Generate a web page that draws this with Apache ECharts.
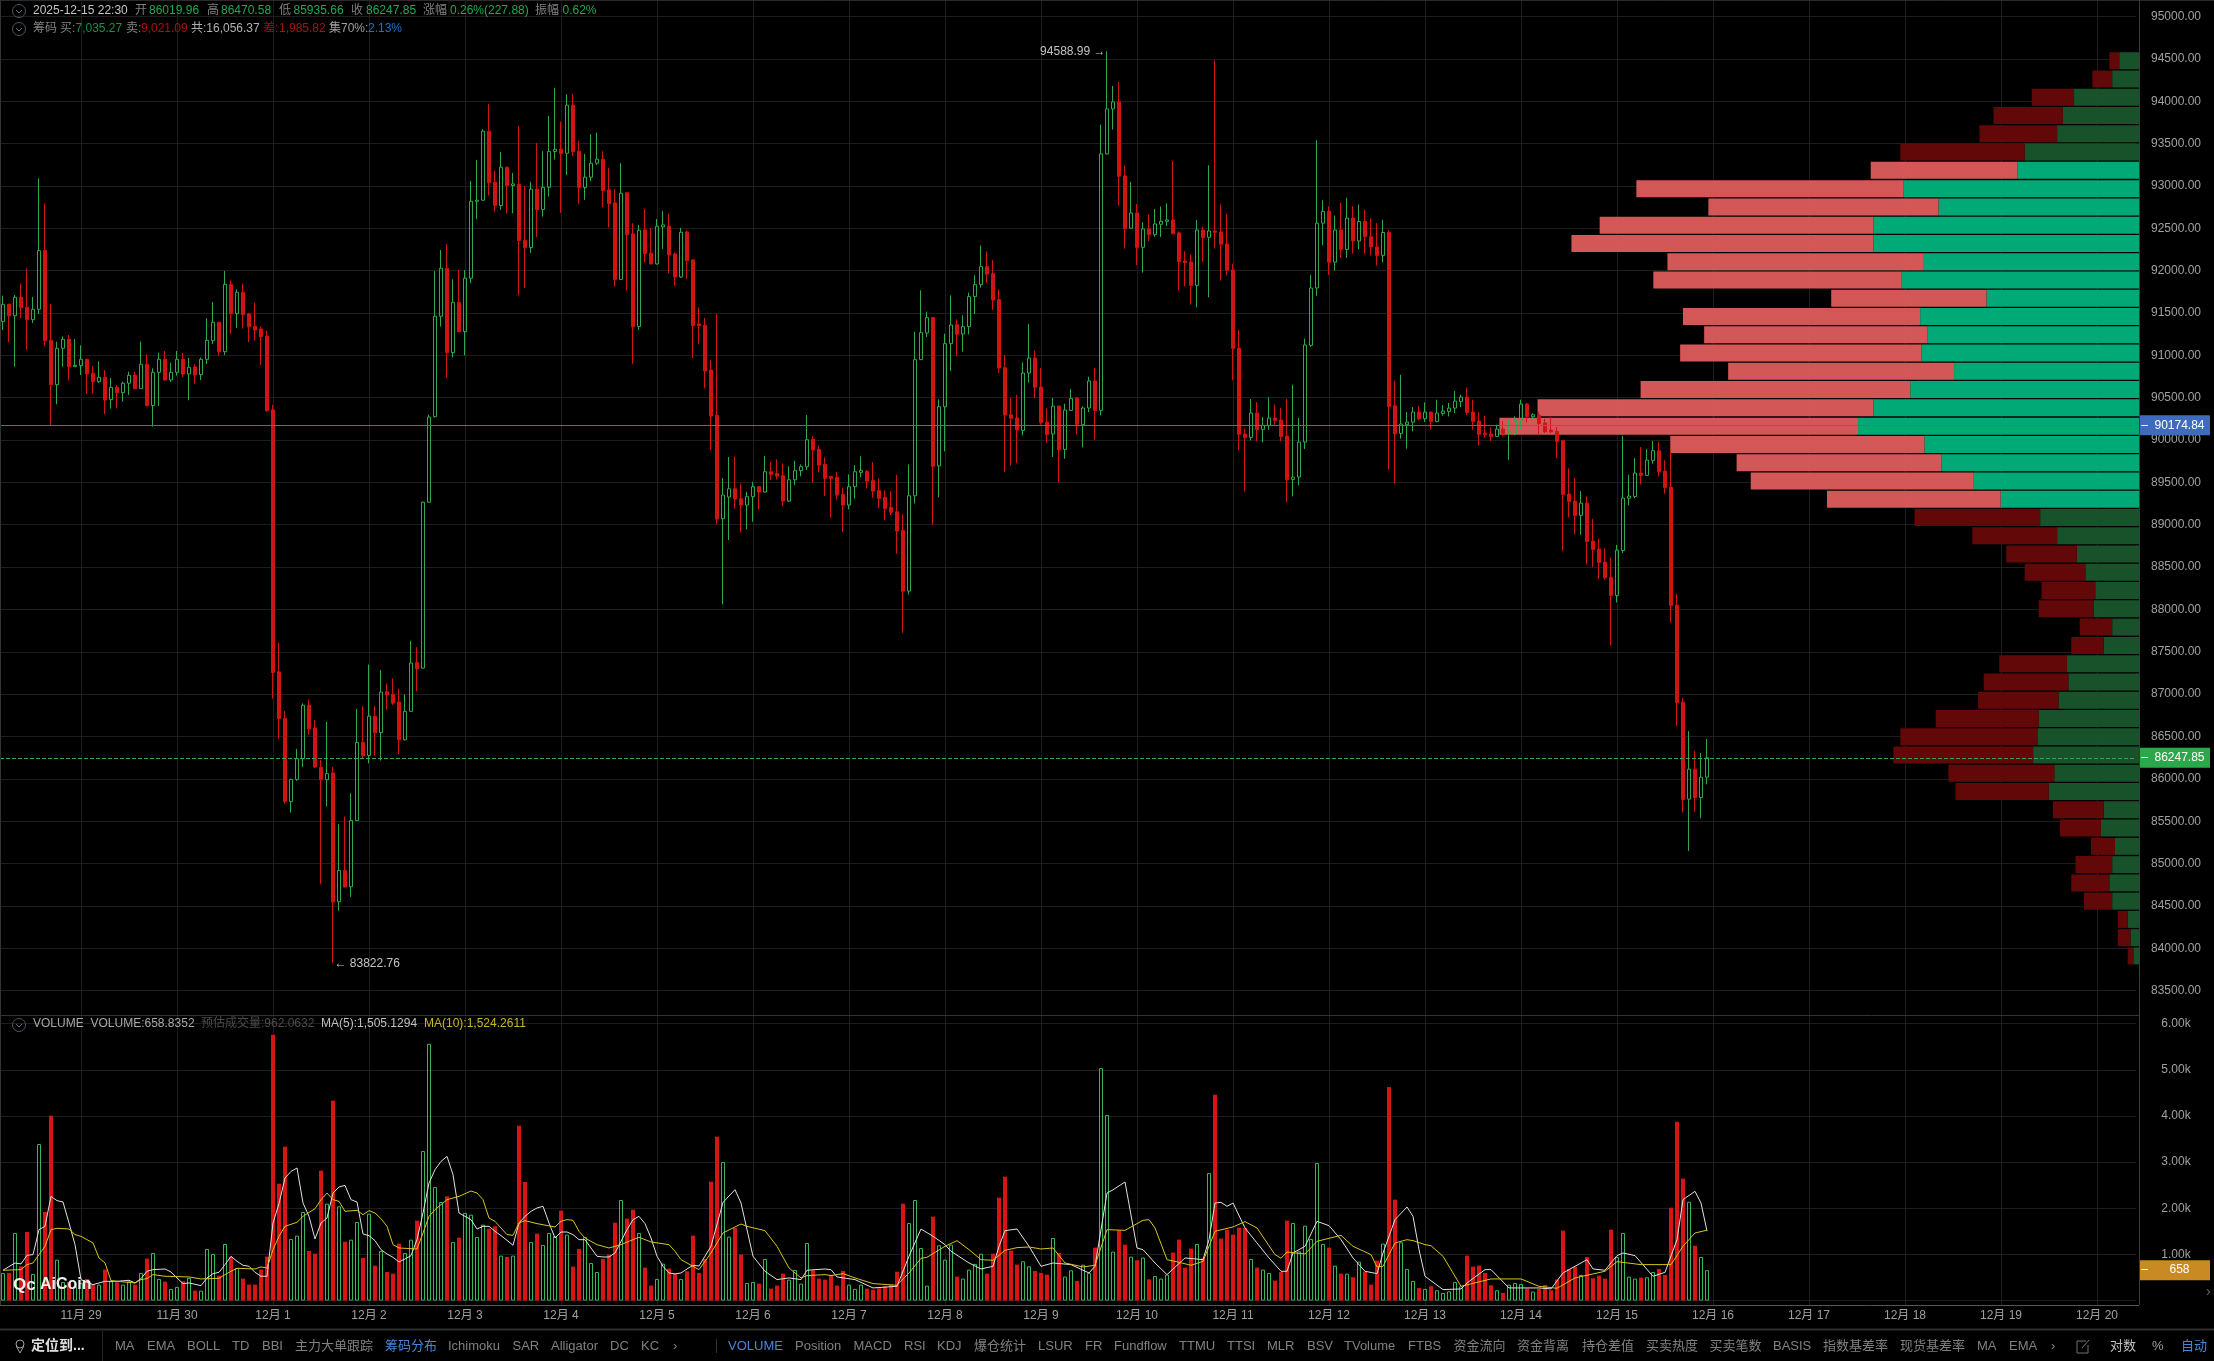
<!DOCTYPE html>
<html>
<head>
<meta charset="utf-8">
<title>BTC K线</title>
<script src="https://cdn.jsdelivr.net/npm/echarts@6/dist/echarts.min.js"></script>
<style>
html, body { margin: 0; padding: 0; background: #000; }
#main { width: 2214px; height: 1361px; }
</style>
</head>
<body>
<div id="main"></div>
<script>
// 开 收 低 高 (90分钟K线)
const candles = [
  [91398,91602,91299,91705],[91602,91468,91154,91610],[91468,91685,90866,91712],[91685,91563,91437,91846],[91567,91421,91063,92027],
  [91421,91543,91382,91689],[91543,92236,91488,93090],[92240,91173,91110,92794],[91177,90654,90178,91606],[90654,91083,90422,91161],
  [91083,91189,90866,91224],[91189,90866,90701,91240],[90866,90882,90866,91193],[90878,90953,90768,91118],[90953,90780,90544,90960],
  [90788,90689,90548,90874],[90689,90740,90674,90929],[90740,90473,90308,90827],[90477,90622,90370,90733],[90622,90559,90374,90650],
  [90559,90670,90453,90689],[90670,90764,90532,90807],[90768,90607,90607,90803],[90607,90894,90600,91161],[90894,90406,90400,91012],
  [90406,90799,90158,90847],[90799,90953,90402,91032],[90953,90709,90700,91051],[90709,90799,90685,90914],[90799,90953,90760,91051],
  [90953,90780,90744,91028],[90780,90858,90469,90969],[90862,90768,90666,90894],[90772,90953,90709,90973],[90953,91177,90898,91437],
  [91173,91390,91134,91630],[91390,91043,90992,91395],[91043,91838,91004,91996],[91838,91492,91252,91885],[91492,91744,91323,91779],
  [91744,91480,91315,91846],[91488,91339,91158,91500],[91342,91299,91173,91622],[91311,91220,90886,91342],[91224,90347,90331,91287],
  [90357,87256,86947,90417],[87264,86710,86474,87608],[86715,85731,85705,86800],[85731,85993,85602,86000],[85993,86238,85976,86354],
  [86238,86869,86139,86891],[86869,86590,86521,86938],[86599,86139,86130,86697],[86135,85989,84756,86225],[85989,86062,85675,86672],
  [86070,84546,83822.76,86139],[84550,84919,84443,85465],[84919,84722,84722,85555],[84726,85508,84606,85830],[85508,86431,85508,86826],
  [86431,86272,86246,86861],[86276,86740,86182,87350],[86740,86543,86272,86861],[86547,87024,86216,87286],[87028,86990,86818,87127],
  [86998,86895,86869,87183],[86908,86461,86294,87062],[86461,86796,86453,86998],[86796,87367,86796,87630],[87372,87299,87033,87556],
  [87307,89266,87300,89274],[89266,90271,89260,90300],[90276,91461,90265,91996],[91461,92028,91339,92244],[92028,91032,90733,92315],
  [91032,91626,90977,91898],[91626,91280,91270,92008],[91280,91910,91000,92008],[91910,92819,91851,93059],[92819,92831,92607,93307],
  [92831,93646,92825,93670],[93646,93040,92886,93969],[93044,92768,92697,93181],[92768,93221,92717,93398],[93221,93004,92677,93225],
  [93004,93024,92677,93154],[93020,92355,91709,93709],[92359,92272,91796,93000],[92272,92961,92209,93048],[92961,92721,92394,93508],
  [92721,92984,92638,93410],[92984,93406,92874,93827],[93406,93433,93311,94158],[93433,93382,92681,93760],[93386,93953,93130,94083],
  [93953,93406,93351,94087],[93410,92981,92788,93532],[92981,93103,92835,93378],[93103,93268,93055,93610],[93268,93315,93248,93630],
  [93315,92945,92748,93410],[92953,92792,92508,93213],[92800,91894,91811,92961],[91894,92914,91890,93268],[92918,92422,91764,92925],
  [92433,91339,90898,92559],[91339,92477,91300,92540],[92481,92201,92095,92729],[92205,92079,92075,92504],[92079,92524,92071,92610],
  [92516,92540,92256,92705],[92524,92185,91969,92677],[92197,91925,91819,92217],[91925,92453,91914,92504],[92457,92118,91902,92477],
  [92126,91351,90969,92130],[91370,91351,91134,91567],[91355,90815,90611,91441],[90827,90284,89882,90945],[90292,89067,89008,91489],
  [89071,89351,88059,89551],[89327,89425,88819,89799],[89425,89303,89189,89803],[89307,89232,88909,89488],[89232,89331,88945,89390],
  [89331,89449,89035,89508],[89449,89386,89181,89455],[89386,89626,89380,89811],[89626,89594,89527,89744],[89606,89575,89535,89772],
  [89579,89279,89220,89724],[89279,89531,89267,89689],[89531,89638,89468,89756],[89638,89685,89571,89712],[89685,90004,89645,90295],
  [90008,89882,89496,90047],[89890,89705,89618,89937],[89712,89547,89339,89795],[89571,89547,89083,89575],[89559,89350,89299,89622],
  [89358,89232,88913,89437],[89232,89449,89181,89594],[89449,89626,89307,89701],[89618,89642,89559,89807],[89630,89516,89429,89646],
  [89520,89397,89319,89740],[89405,89311,89197,89547],[89323,89193,89051,89405],[89205,89146,89114,89397],[89153,88925,88657,89590],
  [88933,88216,87724,89122],[88216,89342,88177,89712],[89342,90949,89252,91279],[90949,91268,90945,91767],[91264,91445,91216,91516],
  [91445,89689,89000,91450],[89693,90393,89323,90480],[90393,91138,89866,91256],[91138,91358,90815,91708],[91362,91248,90992,91425],
  [91252,91338,91043,91472],[91338,91693,91248,91740],[91693,91834,91488,91945],[91834,92047,91799,92295],[92047,91960,91854,92228],
  [91964,91653,91535,92126],[91657,90850,90795,91779],[90854,90295,89622,91004],[90299,90256,89701,90496],[90260,90118,89728,90535],
  [90114,90791,90055,90917],[90791,90968,90677,91370],[90968,90622,90496,91055],[90626,90208,90181,90850],[90212,90063,89968,90370],
  [90071,90401,89799,90496],[90401,89885,89500,90405],[89889,90354,89779,90429],[90350,90492,90345,90602],[90496,90185,90063,90500],
  [90181,90378,89913,90397],[90378,90697,90330,90748],[90697,90350,90004,90850],[90350,93378,90291,93724],[93378,93909,93370,94588.99],
  [93909,93992,93665,94181],[93992,93114,92767,94228],[93118,92496,92260,93244],[92500,92681,92495,93047],[92681,92275,92063,92787],
  [92275,92492,91976,92571],[92492,92425,92346,92661],[92425,92551,92401,92728],[92547,92582,92397,92756],[92582,92598,92527,92795],
  [92598,92437,92430,93295],[92445,92106,91764,92464],[92114,92094,91815,92228],[92102,91826,91598,92189],[91826,92480,91567,92598],
  [92480,92389,92102,92519],[92393,92468,91685,93244],[92468,92452,92260,94480],[92456,92311,91882,92779],[92315,92004,91945,92673],
  [92008,91082,90704,92082],[91086,90067,89878,91299],[90071,90031,89393,90134],[90031,90319,89996,90484],[90319,90126,89984,90449],
  [90126,90173,89972,90271],[90173,90260,90122,90504],[90260,90232,90181,90417],[90236,90043,89984,90378],[90047,89531,89263,90484],
  [89535,89563,89334,90653],[89563,89976,89464,90260],[89976,91122,89893,91197],[91118,91795,91100,91950],[91795,92560,91700,93540],
  [92560,92700,92300,92830],[92700,92100,91950,92760],[92100,92480,92000,92650],[92480,92250,92150,92800],[92250,92620,92150,92860],
  [92620,92350,92200,92760],[92350,92580,92250,92780],[92580,92400,92200,92720],[92400,92280,92180,92620],[92280,92180,92060,92560],
  [92180,92450,92100,92600],[92450,90397,89649,92480],[90405,90074,89484,90700],[90078,90189,90015,90770],[90181,90212,89897,90330],
  [90212,90330,90102,90389],[90330,90251,90232,90405],[90251,90330,90212,90444],[90330,90220,90122,90335],[90220,90318,90208,90476],
  [90314,90342,90287,90413],[90338,90377,90279,90437],[90377,90460,90318,90578],[90456,90507,90389,90535],[90507,90326,90291,90620],
  [90330,90220,90122,90476],[90224,90066,89937,90330],[90082,90062,90031,90287],[90070,90043,89984,90149],[90043,90129,90040,90181],
  [90129,90074,90043,90224],[90082,90098,89767,90248],[90074,90232,90055,90279],[90236,90425,90129,90476],[90425,90279,90208,90437],
  [90275,90299,90248,90318],[90295,90196,90055,90334],[90200,90098,90082,90251],[90118,90098,90082,90271],[90102,89984,89787,90153],
  [89992,89358,88689,90003],[89362,89275,89086,89665],[89279,89110,88885,89555],[89110,89255,88881,89397],[89255,88803,88531,89334],
  [88807,88708,88500,89070],[88712,88555,88358,88834],[88559,88374,88350,88720],[88381,88165,87578,88614],[88165,88700,88082,88763],
  [88696,89314,88665,90051],[89314,89338,89228,89590],[89334,89610,89314,89787],[89610,89582,89476,89917],[89582,89763,89575,89893],
  [89759,89874,89720,89988],[89874,89626,89570,89980],[89633,89440,89366,89763],[89444,88047,87846,89885],[88051,86901,86626,88185],
  [86905,85756,85602,86952],[85760,86114,85149,86563],[86114,85779,85610,86330],[85779,86019,85535,86303],[86019.96,86247.85,85935.66,86470.58]
]

const volumes = [
  599,599,1465,743,1486,577,3391,1919,4004,887,400,400,310,380,469,346,346,671,418,397,
  346,418,346,599,909,1032,469,411,253,296,418,490,216,216,1118,1010,541,1226,945,707,
  476,346,346,671,952,5758,2532,3333,1335,1407,1919,1075,1017,2814,2100,4329,2042,1277,1320,1703,
  924,1883,758,1075,620,584,1234,1032,1320,1732,3240,5563,2460,2136,2258,1270,1364,1898,1861,1378,
  1645,1558,1609,974,945,974,3788,2569,1270,1450,1205,1465,1392,1948,1429,736,1118,1378,815,620,
  902,996,1688,2179,1775,1970,1465,714,325,469,801,693,584,469,635,1407,599,902,2576,3550,
  3001,1385,1573,996,382,404,368,902,260,325,584,455,664,368,1248,657,476,455,556,325,
  642,346,253,346,260,238,267,310,339,628,2100,1681,2179,1140,325,1818,1198,887,1212,519,
  476,671,794,1017,584,1017,2229,2684,1082,779,851,743,642,599,563,1356,1032,519,657,426,
  779,599,1147,5036,4019,1061,1522,1212,952,873,931,462,534,476,563,1039,1320,714,1126,1227,
  916,2763,4459,1342,1530,1429,1580,1573,902,714,671,599,433,620,1732,1681,1068,1623,1335,2980,
  1227,1147,758,584,584,505,844,628,346,866,1234,4625,2186,1263,685,426,274,253,310,224,
  166,202,404,310,974,736,758,599,332,224,166,346,382,361,260,195,253,339,224,455,
  1515,685,729,556,945,483,541,476,1537,945,1465,519,476,498,505,620,685,556,2013,3875,
  2641,2143,1190,945,658.8352
]

// 均线从图上读点 [序号, 值]
const ma5 = [
  [0,657],[2,815],[3,794],[4,981],[5,996],[6,1537],[7,1609],[8,2258],[9,2165],[10,2136],[11,1681],[12,1212],[13,455],[14,397],[15,346],
  [16,382],[17,418],[19,418],[21,440],[22,382],[23,476],[24,635],[25,671],[27,685],[28,620],[29,490],[30,368],[31,382],[33,325],[34,490],
  [35,584],[36,613],[37,779],[38,960],[39,851],[40,765],[41,743],[42,613],[43,527],[44,527],[45,1681],[46,2100],[47,2655],[48,2799],[49,2872],
  [50,2114],[51,1825],[52,1335],[53,1681],[54,1789],[55,2330],[56,2460],[57,2496],[58,2186],[59,2136],[60,1443],[61,1407],[62,1299],[63,1104],[64,1010],
  [65,938],[66,837],[67,902],[68,974],[69,1320],[70,1898],[71,2547],[72,2835],[73,3016],[74,3124],[75,2727],[76,1898],[77,1825],[78,1753],[79,1551],
  [80,1609],[81,1609],[82,1501],[83,1407],[84,1306],[85,1198],[86,1681],[87,1825],[88,1934],[89,2006],[90,2042],[91,1681],[92,1356],[93,1486],[94,1486],
  [95,1429],[96,1320],[97,1320],[98,1140],[99,960],[100,945],[101,945],[102,1032],[103,1284],[104,1537],[105,1753],[106,1825],[107,1667],[108,1356],[109,960],
  [110,743],[111,599],[112,577],[113,599],[114,685],[115,765],[116,750],[118,1176],[120,2128],[122,2403],[123,2114],[125,960],[127,635],[129,455],[131,491],
  [133,455],[134,657],[137,685],[138,671],[139,512],[142,455],[145,274],[149,310],[151,960],[153,1551],[155,1393],[157,1212],[158,1068],[161,815],[163,685],
  [165,743],[166,1176],[167,1515],[169,1551],[171,1176],[173,743],[175,815],[178,779],[181,599],[182,743],[184,2330],[185,2400],[187,2569],[189,1140],[190,1104],
  [192,815],[194,563],[197,924],[200,887],[201,1320],[202,2114],[203,2128],[204,2042],[205,2114],[207,1573],[209,1248],[211,924],[213,635],[214,635],[215,1032],
  [217,1176],[219,1717],[221,1623],[223,1320],[225,924],[227,635],[229,584],[230,1032],[232,1753],[234,2027],[235,1825],[236,1104],[237,527],[240,238],[243,253],
  [244,382],[247,671],[248,671],[251,274],[256,274],[258,253],[260,599],[264,887],[265,685],[267,657],[269,974],[270,1032],[272,974],[275,527],[277,613],
  [279,1320],[280,2186],[282,2367],[283,2114],[284,1505.13]
]
const ma10 = [
  [0,657],[3,671],[4,779],[5,815],[6,996],[7,1176],[8,1537],[9,1566],[11,1551],[12,1429],[13,1392],[15,1248],[16,924],[17,815],[18,433],
  [19,418],[22,382],[23,455],[24,476],[25,563],[27,527],[31,512],[33,469],[36,483],[37,563],[38,635],[39,700],[42,685],[43,729],[44,707],
  [45,1104],[46,1392],[47,1609],[49,1696],[50,1825],[52,1991],[53,2186],[54,2330],[55,2186],[56,2150],[57,1934],[59,1955],[60,1861],[61,1948],[62,1898],
  [63,1775],[64,1609],[65,1212],[66,1140],[69,1118],[70,1465],[71,1825],[72,1970],[74,2186],[76,2258],[78,2374],[79,2330],[80,2186],[81,1789],[82,1717],
  [84,1429],[85,1414],[86,1681],[87,1732],[89,1667],[92,1595],[93,1717],[94,1753],[95,1739],[96,1501],[97,1356],[99,1212],[101,1140],[103,1212],[105,1320],
  [106,1371],[108,1270],[111,1212],[112,1068],[113,887],[115,743],[116,671],[118,1032],[120,1465],[123,1659],[124,1609],[127,1515],[129,1176],[131,707],[133,491],
  [134,541],[137,563],[138,541],[140,584],[142,491],[145,368],[149,332],[151,599],[153,916],[154,938],[157,1176],[159,1299],[161,1104],[163,887],[165,873],
  [167,1089],[169,1147],[171,1162],[173,1118],[175,1140],[177,815],[180,729],[182,765],[184,1537],[187,1522],[190,1739],[191,1753],[192,1573],[194,887],[196,830],
  [198,765],[200,851],[202,1501],[205,1595],[207,1710],[209,1573],[212,996],[213,916],[214,1053],[217,1010],[219,1284],[223,1414],[225,1176],[228,996],[229,729],
  [230,743],[232,1248],[234,1320],[235,1299],[237,1212],[238,1190],[240,960],[243,310],[248,469],[253,469],[256,310],[259,267],[262,491],[267,635],[269,844],
  [273,779],[278,779],[280,1176],[282,1465],[284,1524.26]
]

// 筹码分布，从上到下
const chipBuy = [14,19,46,54,58,81,86,167,142,188,188,153,168,108,155,150,154,131,162,188,199,152,140,117,98,70,58,44,38,31,32,19,25,51,50,57,71,72,75,60,64,25,27,17,19,21,19,8,6,4]
const chipSell = [7,14,30,49,55,88,104,189,163,194,214,181,176,110,168,158,171,160,191,238,254,180,145,158,123,89,60,50,43,38,39,23,23,48,60,57,73,97,99,75,66,36,29,17,26,27,20,7,9,4]
const chipHotFrom = 6
const chipHotTo = 24

const dayLabels = ['11月 29', '11月 30', '12月 1', '12月 2', '12月 3', '12月 4', '12月 5', '12月 6', '12月 7', '12月 8', '12月 9', '12月 10', '12月 11', '12月 12', '12月 13', '12月 14', '12月 15', '12月 16', '12月 17', '12月 18', '12月 19', '12月 20']

const lastPrice = 86247.85
const markPrice = 90174.84
const lastVolume = 658.8352

const FONT = '"Liberation Sans", "Noto Sans CJK SC", sans-serif'
const GREEN = '#2fa84f'
const RED = '#d01414'
const GRID_LINE = '#1d1d1d'
const GREY = '#808080'

const BARS_PER_DAY = 16
const FIRST_DAY_INDEX = 13
const SLOT_COUNT = 356

// 每根K线一个槽，后面留空
let categories = []
for (let i = 0; i < SLOT_COUNT; i++) {
  let d = (i - FIRST_DAY_INDEX) / BARS_PER_DAY
  categories.push(Number.isInteger(d) && dayLabels[d] ? dayLabels[d] : String(i))
}
const isDayTick = (index) => index >= FIRST_DAY_INDEX && (index - FIRST_DAY_INDEX) % BARS_PER_DAY === 0

const volumeData = volumes.map((v, i) => {
  let up = candles[i][1] > candles[i][0]
  return {
    value: v,
    itemStyle: up
      ? { color: 'rgba(0,0,0,0)', borderColor: '#37b85c', borderWidth: 1 }
      : { color: '#d81414' }
  }
})

const priceTag = (bg) => ({
  position: 'end',
  distance: 4,
  formatter: '{d|–}{v|{c}}',
  backgroundColor: bg,
  padding: [4, 0, 4, 0],
  rich: {
    d: { color: '#fff', width: 9, fontSize: 12, fontFamily: FONT, align: 'center' },
    v: { color: '#fff', width: 61, fontSize: 12, fontFamily: FONT, align: 'center' }
  }
})

// 顶部文字、工具栏
const textItem = (x, y, text, fill, size, weight) => ({
  type: 'text',
  x: x,
  y: y,
  z: 100,
  silent: true,
  style: {
    text: text,
    fill: fill,
    font: (weight || 'normal') + ' ' + (size || 12) + 'px ' + FONT,
    verticalAlign: 'middle'
  }
})
const chevronIcon = (cx, cy) => [
  { type: 'circle', z: 100, shape: { cx: cx, cy: cy, r: 6.5 }, style: { fill: 'none', stroke: '#4d5560', lineWidth: 1 } },
  { type: 'polyline', z: 100, shape: { points: [[cx - 3, cy - 1], [cx, cy + 2], [cx + 3, cy - 1]] }, style: { fill: 'none', stroke: '#6a7280', lineWidth: 1 } }
]
const hLine = (y, x1, x2, color, w) => ({ type: 'line', z: 50, shape: { x1: x1, y1: y, x2: x2, y2: y }, style: { stroke: color, lineWidth: w || 1 } })
const vLine = (x, y1, y2, color) => ({ type: 'line', z: 50, shape: { x1: x, y1: y1, x2: x, y2: y2 }, style: { stroke: color, lineWidth: 1 } })

const headerRows = [
  [33, 10.5, '2025-12-15 22:30', '#c4c4c4'], [135, 10.5, '开', GREY], [149, 10.5, '86019.96', '#1faa50'],
  [207, 10.5, '高', GREY], [221, 10.5, '86470.58', '#1faa50'], [279, 10.5, '低', GREY], [293.5, 10.5, '85935.66', '#1faa50'],
  [351, 10.5, '收', GREY], [366, 10.5, '86247.85', '#1faa50'], [423, 10.5, '涨幅', GREY], [450, 10.5, '0.26%(227.88)', '#1faa50'],
  [535, 10.5, '振幅', GREY], [562.5, 10.5, '0.62%', '#1faa50'],
  [33, 28.5, '筹码', GREY], [60, 28.5, '买:', GREY], [75.5, 28.5, '7,035.27', '#1b8f45'], [126, 28.5, '卖:', GREY], [141, 28.5, '9,021.09', '#a81212'],
  [191, 28.5, '共:16,056.37', '#b0b0b0'], [263, 28.5, '差:', '#a81212'], [279, 28.5, '1,985.82', '#a81212'], [329, 28.5, '集70%:', '#a0a0a0'], [368, 28.5, '2.13%', '#1e72c8'],
  [33, 1024, 'VOLUME', '#a8a8a8'], [90.5, 1024, 'VOLUME:658.8352', '#a8a8a8'], [201, 1024, '预估成交量:962.0632', '#4c4c4c'],
  [321, 1024, 'MA(5):1,505.1294', '#c0c0c0'], [424, 1024, 'MA(10):1,524.2611', '#c8b81e']
]

const toolbarItems = [
  [115, 'MA'], [147, 'EMA'], [187, 'BOLL'], [232, 'TD'], [262, 'BBI'], [295, '主力大单跟踪'], [385, '筹码分布', '#4a86d8'], [448, 'Ichimoku'], [512.5, 'SAR'], [551, 'Alligator'], [610, 'DC'], [641, 'KC'], [673, '›'],
  [728, 'VOLUME', '#4a86d8'], [795, 'Position'], [853.5, 'MACD'], [904, 'RSI'], [937, 'KDJ'], [974, '爆仓统计'], [1038, 'LSUR'], [1085, 'FR'], [1114, 'Fundflow'], [1179, 'TTMU'], [1227, 'TTSI'], [1267, 'MLR'], [1307, 'BSV'], [1344, 'TVolume'], [1408, 'FTBS'],
  [1453.5, '资金流向'], [1517, '资金背离'], [1582, '持仓差值'], [1646, '买卖热度'], [1709.5, '买卖笔数'], [1773, 'BASIS'], [1823, '指数基差率'], [1900, '现货基差率'], [1977, 'MA'], [2009, 'EMA'], [2051, '›'],
  [2110, '对数', '#c0c0c0'], [2152, '%', '#a0a0a0'], [2181, '自动', '#4a86d8']
]

let graphics = [
  hLine(0.5, 0, 2214, '#2a2a2a'),
  vLine(0.5, 0, 1305, '#333'),
  vLine(2139.5, 0, 1305, '#3a3a3a'),
  hLine(1015.5, 0, 2139, '#333'),
  hLine(1305.5, 0, 2139, '#555'),
  hLine(1329.5, 0, 2214, '#2e2e2e', 2),
  vLine(102.5, 1331, 1361, '#222'),
  vLine(716.5, 1339, 1353, '#333')
]
graphics = graphics.concat(chevronIcon(19, 11), chevronIcon(19, 29), chevronIcon(19, 1025))
headerRows.forEach(r => graphics.push(textItem(r[0], r[1], r[2], r[3])))
toolbarItems.forEach(r => graphics.push(textItem(r[0], 1346.5, r[1], r[2] || GREY, 13)))
graphics.push(textItem(31, 1346.5, '定位到...', '#e0e0e0', 14, 'bold'))
graphics.push({ type: 'circle', z: 100, shape: { cx: 20, cy: 1344, r: 4 }, style: { fill: 'none', stroke: '#a0a0a0' } })
graphics.push({ type: 'polyline', z: 100, shape: { points: [[16.2, 1346], [20, 1353], [23.8, 1346]] }, style: { fill: 'none', stroke: '#a0a0a0' } })
graphics.push({ type: 'polyline', z: 100, shape: { points: [[2086, 1341], [2077, 1341], [2077, 1353], [2088, 1353], [2088, 1345]] }, style: { fill: 'none', stroke: '#707070' } })
graphics.push({ type: 'line', z: 100, shape: { x1: 2082, y1: 1348, x2: 2089, y2: 1340 }, style: { stroke: '#707070' } })
// 水印
graphics.push(textItem(13, 1285, 'Qc', '#f0f0f0', 17, 'bold'))
graphics.push(textItem(40, 1285, 'AiCoin', '#f0f0f0', 16, 'bold'))
graphics.push(textItem(2206, 1292, '›', '#666', 14))

const hiddenCategory = (gridIndex) => ({
  type: 'category',
  gridIndex: gridIndex,
  data: categories,
  boundaryGap: true,
  show: false
})
const dayLineCategory = (gridIndex, showLabel) => ({
  type: 'category',
  gridIndex: gridIndex,
  data: categories,
  boundaryGap: true,
  axisLine: { show: false },
  axisTick: { show: false, alignWithLabel: true, interval: isDayTick },
  axisLabel: {
    show: showLabel,
    interval: isDayTick,
    color: '#a0a0a0',
    fontSize: 12,
    fontFamily: FONT,
    margin: 5,
    hideOverlap: false
  },
  splitLine: {
    show: true,
    alignWithLabel: true,
    interval: isDayTick,
    lineStyle: { color: GRID_LINE, width: 1 }
  }
})

const option = {
  backgroundColor: '#000',
  animation: false,
  grid: [
    // K线
    { left: 0, width: 2136, top: 16.5, height: 974.1 },
    // 成交量
    { left: 0, width: 2136, top: 1023.6, height: 277 },
    // 筹码
    { left: 0, width: 2139, top: 51.6, height: 913.5 },
    // 竖线背景
    { left: 0, width: 2136, top: 1, height: 1014 },
    { left: 0, width: 2136, top: 1016, height: 289 }
  ],
  xAxis: [
    hiddenCategory(0),
    hiddenCategory(1),
    { type: 'value', gridIndex: 2, min: 0, max: 1515, inverse: true, show: false },
    dayLineCategory(3, false),
    dayLineCategory(4, true)
  ],
  yAxis: [
    {
      type: 'value',
      gridIndex: 0,
      position: 'right',
      min: 83500,
      max: 95000,
      interval: 500,
      axisLine: { show: false },
      axisTick: { show: false },
      axisLabel: {
        color: '#a0a0a0',
        fontSize: 12,
        fontFamily: FONT,
        margin: 40,
        align: 'center',
        padding: [2, 0, 0, 0],
        formatter: (v) => v.toFixed(2)
      },
      splitLine: { lineStyle: { color: GRID_LINE, width: 1 } }
    },
    {
      type: 'value',
      gridIndex: 1,
      position: 'right',
      min: 0,
      max: 6000,
      interval: 1000,
      axisLine: { show: false },
      axisTick: { show: false },
      axisLabel: {
        color: '#a0a0a0',
        fontSize: 12,
        fontFamily: FONT,
        margin: 40,
        align: 'center',
        formatter: (v) => v === 0 ? '' : (v / 1000).toFixed(2) + 'k'
      },
      splitLine: { lineStyle: { color: GRID_LINE, width: 1 } }
    },
    { type: 'category', gridIndex: 2, data: chipBuy.map((v, i) => i), inverse: true, show: false },
    { type: 'value', gridIndex: 3, show: false },
    { type: 'value', gridIndex: 4, show: false }
  ],
  series: [
    {
      name: '买',
      type: 'bar',
      xAxisIndex: 2,
      yAxisIndex: 2,
      stack: 'chip',
      barWidth: 17,
      z: 1,
      data: chipBuy,
      itemStyle: {
        color: (p) => p.dataIndex >= chipHotFrom && p.dataIndex <= chipHotTo ? 'rgba(0,178,124,0.95)' : 'rgba(24,86,44,0.95)'
      }
    },
    {
      name: '卖',
      type: 'bar',
      xAxisIndex: 2,
      yAxisIndex: 2,
      stack: 'chip',
      barWidth: 17,
      z: 1,
      data: chipSell,
      itemStyle: {
        color: (p) => p.dataIndex >= chipHotFrom && p.dataIndex <= chipHotTo ? 'rgba(222,92,92,0.95)' : 'rgba(104,8,8,0.95)'
      }
    },
    {
      name: 'K',
      type: 'candlestick',
      xAxisIndex: 0,
      yAxisIndex: 0,
      barWidth: 4,
      z: 3,
      clip: false,
      data: candles,
      itemStyle: {
        color: 'rgba(0,0,0,0)',
        color0: RED,
        borderColor: GREEN,
        borderColor0: RED,
        borderWidth: 1
      },
      markLine: {
        silent: true,
        symbol: 'none',
        animation: false,
        data: [
          {
            yAxis: markPrice,
            lineStyle: { color: '#3f6fc4', type: 'solid', width: 1 },
            label: priceTag('#3f6bbe')
          },
          {
            yAxis: lastPrice,
            lineStyle: { color: GREEN, type: 'dashed', width: 1 },
            label: priceTag('#2ba84a')
          }
        ]
      },
      markPoint: {
        silent: true,
        symbol: 'circle',
        symbolSize: 1,
        itemStyle: { color: 'rgba(0,0,0,0)' },
        data: [
          {
            coord: [184, 94588.99],
            label: { position: 'left', distance: 1, formatter: '94588.99 →', color: '#c4c4c4', fontSize: 12, fontFamily: FONT }
          },
          {
            coord: [55, 83822.76],
            label: { position: 'right', distance: 1, formatter: '← 83822.76', color: '#c4c4c4', fontSize: 12, fontFamily: FONT }
          }
        ]
      }
    },
    {
      name: 'VOLUME',
      type: 'bar',
      xAxisIndex: 1,
      yAxisIndex: 1,
      barWidth: 4,
      z: 3,
      data: volumeData,
      markLine: {
        silent: true,
        symbol: 'none',
        animation: false,
        data: [
          {
            yAxis: lastVolume,
            lineStyle: { color: 'rgba(0,0,0,0)' },
            label: Object.assign(priceTag('#c98a24'), { formatter: '{d|–}{v|658}' })
          }
        ]
      }
    },
    {
      name: 'MA5',
      type: 'line',
      xAxisIndex: 1,
      yAxisIndex: 1,
      z: 5,
      symbol: 'none',
      data: ma5,
      lineStyle: { color: '#e0e0e0', width: 1 }
    },
    {
      name: 'MA10',
      type: 'line',
      xAxisIndex: 1,
      yAxisIndex: 1,
      z: 5,
      symbol: 'none',
      data: ma10,
      lineStyle: { color: '#d8c41c', width: 1 }
    }
  ],
  graphic: graphics
}

let myChart = echarts.init(document.getElementById('main'))
myChart.setOption(option)
</script>
</body>
</html>
